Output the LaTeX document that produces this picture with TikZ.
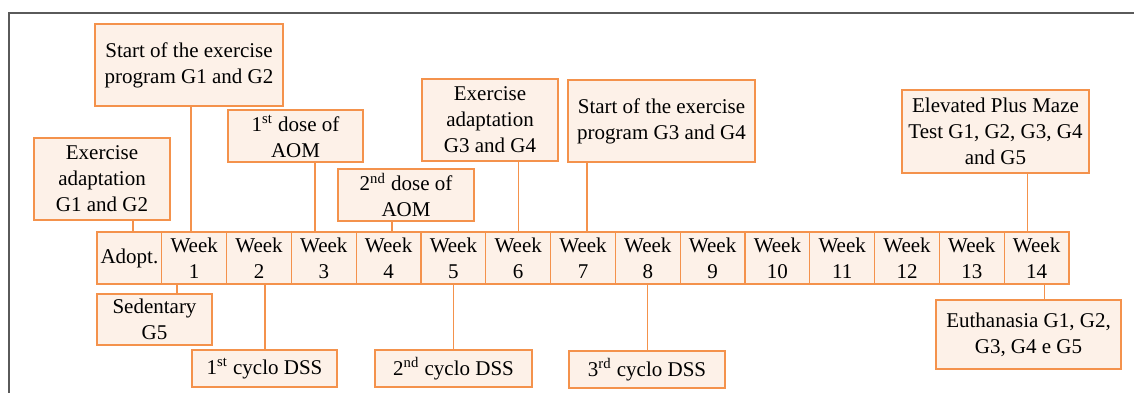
\documentclass[tikz,border=0pt]{standalone}
\usepackage{fontspec}
\setmainfont{Liberation Serif}
\usetikzlibrary{positioning}
\definecolor{tlorange}{RGB}{244,146,76}
\definecolor{tlfill}{RGB}{253,241,232}
\definecolor{framegray}{RGB}{90,90,90}
\begin{document}
\begin{tikzpicture}[x=0.5pt,y=-0.5pt,
    box/.style={draw=tlorange,fill=tlfill,line width=0.6pt,inner sep=0pt,outer sep=0pt,
        align=center,font=\fontsize{10.5}{13}\selectfont},
    cell/.style={box,minimum width=32.4pt,minimum height=26pt},
    link/.style={draw=tlorange,line width=0.6pt}]
            \useasboundingbox (0,0) rectangle (1134,393);
            \draw[framegray,line width=0.7pt] (1134,13) -| (9,393);

            % timeline
            \node[cell] (w0) at (129.4,258) {Adopt.};
            \foreach \i [remember=\i as \j (initially 0)] in {1,...,14}
                \node[cell] (w\i) [right=0pt of w\j] {Week\\\i};

            % events above
            \node[box,minimum width=68pt,minimum height=41pt] (ea12) at (102,179) {Exercise\\adaptation\\G1 and G2};
            \node[box,minimum width=94pt,minimum height=41pt] (sp12) at (189,65) {Start of the exercise\\program G1 and G2};
            \node[box,minimum width=67.5pt,minimum height=26pt] (dose1) at (295.5,136) {1\textsuperscript{st} dose of\\AOM};
            \node[box,minimum width=68pt,minimum height=26pt] (dose2) at (406,195) {2\textsuperscript{nd} dose of\\AOM};
            \node[box,minimum width=68pt,minimum height=41pt] (ea34) at (490,120) {Exercise\\adaptation\\G3 and G4};
            \node[box,minimum width=93.5pt,minimum height=41pt] (sp34) at (661.5,121) {Start of the exercise\\program G3 and G4};
            \node[box,minimum width=93.5pt,minimum height=41.5pt] (epm) at (995.5,131.5) {Elevated Plus Maze\\Test G1, G2, G3, G4\\and G5};

            % events below
            \node[box,minimum width=57.5pt,minimum height=25.5pt] (sed) at (154.5,319.5) {Sedentary\\G5};
            \node[box,minimum width=72.5pt,minimum height=18.5pt] (dss1) at (264.5,368.5) {1\textsuperscript{st} cyclo DSS};
            \node[box,minimum width=78.5pt,minimum height=18.5pt] (dss2) at (453.5,368.5) {2\textsuperscript{nd} cyclo DSS};
            \node[box,minimum width=78pt,minimum height=18.5pt] (dss3) at (647,369.5) {3\textsuperscript{rd} cyclo DSS};
            \node[box,minimum width=92.5pt,minimum height=34.5pt] (euth) at (1028.5,334.5) {Euthanasia G1, G2,\\G3, G4 e G5};

            \foreach \b/\c/\dx in {ea12/w0/1.8,sp12/w1/-1.6,dose1/w3/-4.4,dose2/w4/1.7,ea34/w6/0,sp34/w7/2,epm/w14/-4.6}
                \draw[link] ([xshift=\dx]\c.north) -- ([xshift=\dx]\c.north |- \b.south);
            \foreach \b/\c/\dx in {sed/w1/-8.6,dss1/w2/3,dss2/w5/0,dss3/w8/0,euth/w14/3.9}
                \draw[link] ([xshift=\dx]\c.south) -- ([xshift=\dx]\c.south |- \b.north);
        \end{tikzpicture}
\end{document}
